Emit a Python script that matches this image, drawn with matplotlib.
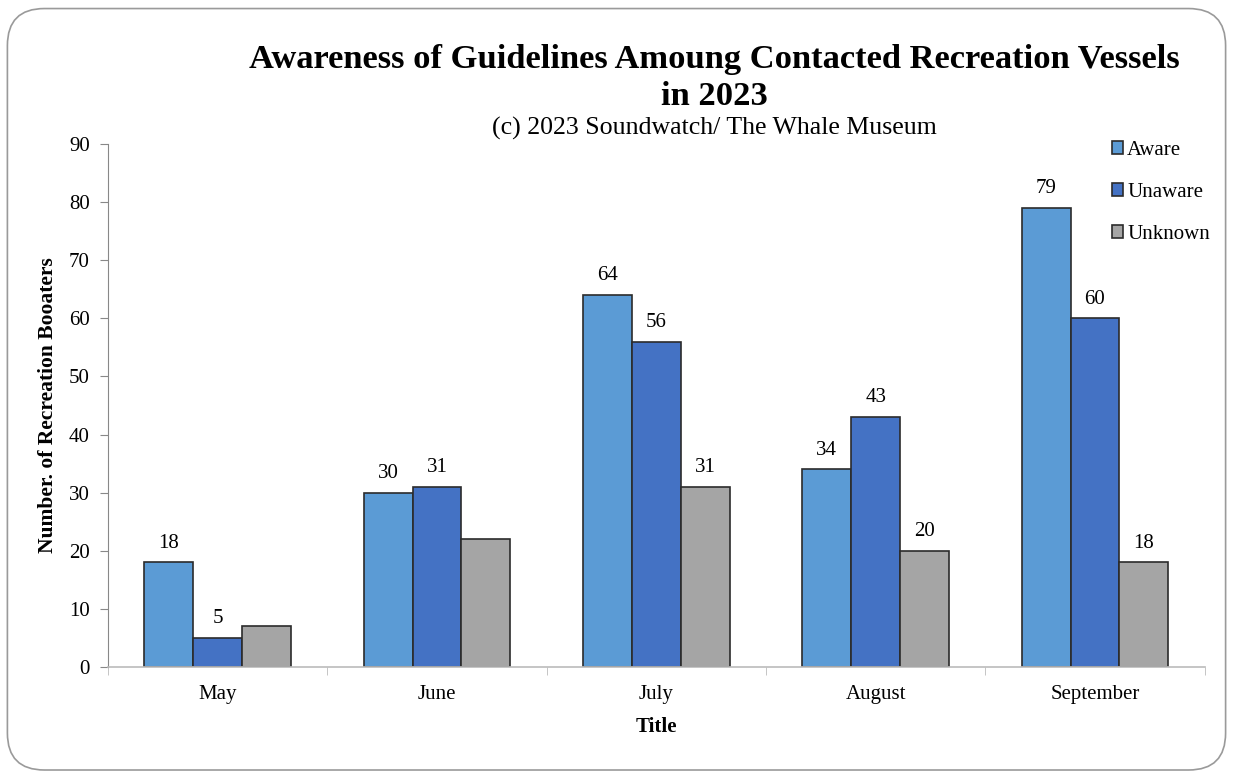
import numpy as np
import matplotlib.pyplot as plt
from matplotlib.patches import FancyBboxPatch

# monthly counts of contacted recreation vessels
months = ['May', 'June', 'July', 'August', 'September']
aware = [18, 30, 64, 34, 79]
unaware = [5, 31, 56, 43, 60]
unknown = [7, 22, 31, 20, 18]

# value labels shown above bars (None = no label)
aware_labels = [18, 30, 64, 34, 79]
unaware_labels = [5, 31, 56, 43, 60]
unknown_labels = [None, None, 31, 20, 18]

plt.rcParams['font.family'] = ['Liberation Serif', 'DejaVu Serif']

fig = plt.figure(figsize=(12.33, 7.77), dpi=100)
ax = fig.add_axes([0.0876, 0.1416, 0.8894, 0.6731])

# rounded frame around the whole chart
frame = FancyBboxPatch((0.006, 0.009), 0.988, 0.98, boxstyle='round,pad=0,rounding_size=0.03',
                       transform=fig.transFigure, facecolor='none', edgecolor='#9a9a9a',
                       linewidth=1.2, mutation_aspect=1233 / 777)
fig.patches.append(frame)

x = np.arange(len(months))
w = 0.223
series = [
    (aware, aware_labels, '#5B9BD5', 'Aware', -w),
    (unaware, unaware_labels, '#4472C4', 'Unaware', 0),
    (unknown, unknown_labels, '#A5A5A5', 'Unknown', w),
]
for vals, labels, color, name, off in series:
    bars = ax.bar(x + off, vals, width=w, color=color, edgecolor='#2b2b2b', linewidth=1.2, label=name)
    for b, lab in zip(bars, labels):
        if lab is not None:
            ax.annotate(str(lab), (b.get_x() + b.get_width() / 2, b.get_height()),
                        xytext=(0, 7), textcoords='offset points', ha='center', va='bottom', fontsize=15)

ax.set_xlim(-0.5, len(months) - 0.5)
ax.set_ylim(0, 90)
ax.set_yticks(range(0, 91, 10))
ax.set_xticks(x)
ax.set_xticklabels(months, fontsize=15)
ax.set_xticks(np.arange(-0.5, len(months), 1), minor=True)
ax.tick_params(axis='x', which='major', length=0, pad=13)
ax.tick_params(axis='x', which='minor', length=6, color='#bbbbbb', direction='out')
ax.tick_params(axis='y', labelsize=15, length=6, color='#888888', pad=7)

for s in ['top', 'right']:
    ax.spines[s].set_visible(False)
ax.spines['left'].set_color('#888888')
ax.spines['bottom'].set_color('#bbbbbb')
ax.spines['bottom'].set_linewidth(1.2)

ax.set_xlabel('Title', fontsize=15, fontweight='bold', labelpad=9)
ax.set_ylabel('Number. of Recreation Booaters', fontsize=15.5, fontweight='bold', labelpad=8)

fig.text(0.579, 0.8995, 'Awareness of Guidelines Amoung Contacted Recreation Vessels\nin 2023',
         ha='center', va='center', fontsize=24.8, fontweight='bold', linespacing=1.23)
fig.text(0.579, 0.835, '(c) 2023 Soundwatch/ The Whale Museum', ha='center', va='center', fontsize=18.6)

leg = ax.legend(loc='upper left', bbox_to_anchor=(0.898, 1.042), frameon=False, fontsize=15,
                handlelength=0.55, handleheight=0.55, handletextpad=0.2, labelspacing=1.1)

fig.savefig('out.png', dpi=100)
